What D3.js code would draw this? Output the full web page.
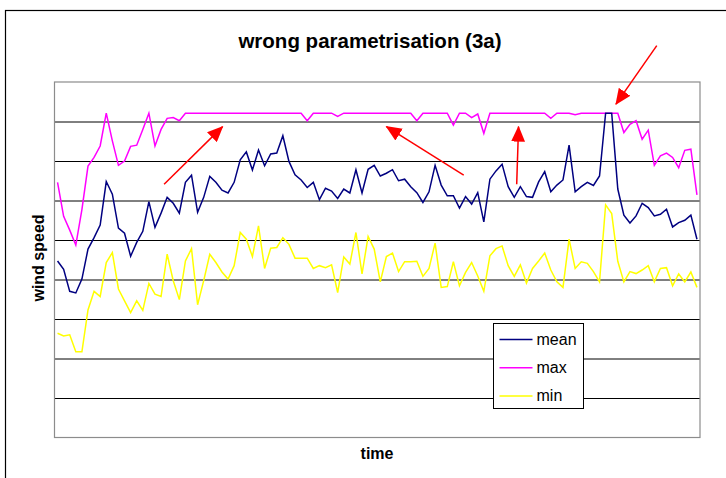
<!DOCTYPE html>
<html>
<head>
<meta charset="utf-8">
<script src="https://cdn.jsdelivr.net/npm/d3@7"></script>
<style>
  body { margin: 0; background: #fff; }
  text { font-family: "Liberation Sans", Arial, sans-serif; }
</style>
</head>
<body>
<div id="d3"></div>
<script>
"use strict";

// wind speed series (one value per time step)
var meanData = [
  4.47, 4.26, 3.70, 3.66, 4.01, 4.77, 5.06, 5.38, 6.48, 6.16,
  5.30, 5.17, 4.59, 4.94, 5.22, 5.97, 5.32, 5.68, 6.08, 5.93,
  5.68, 6.46, 6.64, 5.70, 6.08, 6.61, 6.46, 6.26, 6.19, 6.46,
  7.03, 7.23, 6.77, 7.28, 6.88, 7.18, 7.20, 7.64, 6.99, 6.65,
  6.52, 6.33, 6.46, 6.02, 6.31, 6.24, 6.05, 6.29, 6.19, 6.78,
  6.19, 6.79, 6.89, 6.62, 6.69, 6.78, 6.50, 6.54, 6.35, 6.20,
  5.95, 6.22, 6.89, 6.39, 6.12, 6.12, 5.81, 6.10, 5.91, 6.20,
  5.46, 6.54, 6.75, 6.92, 6.35, 6.08, 6.35, 6.10, 6.08, 6.47,
  6.73, 6.22, 6.39, 6.52, 7.40, 6.22, 6.35, 6.46, 6.38, 6.62,
  8.21, 8.21, 6.29, 5.63, 5.43, 5.61, 5.93, 5.82, 5.61, 5.65,
  5.78, 5.33, 5.44, 5.50, 5.63, 5.02
];
var maxData = [
  6.46, 5.60, 5.25, 4.87, 5.77, 6.87, 7.09, 7.38, 8.21, 7.51,
  6.89, 7.00, 7.37, 7.40, 7.80, 8.21, 7.38, 7.80, 8.08, 8.10,
  8.02, 8.21, 8.21, 8.21, 8.21, 8.21, 8.21, 8.21, 8.21, 8.21,
  8.21, 8.21, 8.21, 8.21, 8.21, 8.21, 8.21, 8.21, 8.21, 8.21,
  8.21, 8.02, 8.21, 8.21, 8.21, 8.21, 8.13, 8.21, 8.21, 8.21,
  8.21, 8.21, 8.21, 8.21, 8.21, 8.21, 8.21, 8.21, 8.21, 8.02,
  8.21, 8.21, 8.21, 8.21, 8.21, 7.91, 8.21, 8.21, 8.10, 8.19,
  7.70, 8.21, 8.21, 8.21, 8.21, 8.21, 8.21, 8.21, 8.21, 8.21,
  8.21, 8.08, 8.21, 8.21, 8.21, 8.17, 8.21, 8.21, 8.21, 8.21,
  8.21, 8.21, 8.21, 7.72, 7.93, 8.02, 7.55, 7.78, 6.89, 7.13,
  7.20, 7.09, 6.83, 7.27, 7.30, 6.14
];
var minData = [
  2.64, 2.57, 2.60, 2.17, 2.17, 3.23, 3.70, 3.57, 4.43, 4.68,
  3.76, 3.46, 3.16, 3.46, 3.22, 3.90, 3.63, 3.57, 4.64, 3.97,
  3.49, 4.47, 4.78, 3.36, 3.97, 4.64, 4.43, 4.19, 4.01, 4.35,
  5.19, 5.02, 4.58, 5.36, 4.28, 4.79, 4.81, 5.06, 4.89, 4.54,
  4.54, 4.54, 4.28, 4.35, 4.30, 4.37, 3.67, 4.57, 4.39, 5.19,
  4.14, 5.09, 4.77, 3.94, 4.58, 4.67, 4.20, 4.45, 4.45, 4.46,
  4.08, 4.28, 4.92, 3.80, 3.82, 4.45, 3.84, 4.18, 4.43, 4.09,
  3.70, 4.60, 4.78, 4.85, 4.35, 4.08, 4.37, 3.91, 4.28, 4.47,
  4.67, 4.24, 3.94, 3.80, 5.02, 4.28, 4.45, 4.41, 4.20, 3.94,
  5.89, 5.67, 4.46, 3.94, 4.20, 4.15, 4.24, 4.35, 3.94, 4.28,
  4.30, 3.84, 4.14, 3.94, 4.19, 3.80
];

var seriesNames = ["mean", "max", "min"];
var seriesColors = ["#000080", "#ff00ff", "#ffff00"];
var gridValues = [1, 2, 3, 4, 5, 6, 7, 8];

// red arrows drawn on the chart, in (time step, wind speed) units
var arrows = [
  { x1: 17.5, y1: 6.41, x2: 27.1, y2: 7.87 },
  { x1: 66.7, y1: 6.64, x2: 54.0, y2: 7.87 },
  { x1: 75.4, y1: 6.41, x2: 75.7, y2: 7.87 },
  { x1: 98.4, y1: 9.92, x2: 91.7, y2: 8.44 }
];

var W = 726, H = 478;
var margin = { top: 82, right: 26, bottom: 40.5, left: 54.5 },
    w = W - margin.left - margin.right,
    h = H - margin.top - margin.bottom;

// category axis: one point in the middle of each time step
var x = d3.scaleLinear()
          .domain([-0.5, meanData.length - 0.5])
          .range([0, w]);
var y = d3.scaleLinear()
          .domain([0, 9])
          .range([h, 0]);

var svg = d3.select("#d3")
            .append("svg")
            .attr("width", W)
            .attr("height", H);

svg.append("rect")
   .attr("width", W).attr("height", H)
   .attr("fill", "#fff");

// outer chart border (runs past the right/bottom edge of the picture)
svg.append("rect")
   .attr("x", 5.5).attr("y", 10.5)
   .attr("width", 760).attr("height", 500)
   .attr("fill", "none")
   .attr("stroke", "#000")
   .attr("stroke-width", 1.2);

svg.append("text")
   .attr("x", 370)
   .attr("y", 48)
   .attr("text-anchor", "middle")
   .attr("font-size", "20.5px")
   .attr("font-weight", "bold")
   .text("wrong parametrisation (3a)");

var g = svg.append("g")
           .attr("transform", "translate(" + margin.left + "," + margin.top + ")");

// horizontal gridlines, no labels
var yAxis = d3.axisLeft(y)
              .tickValues(gridValues)
              .tickSize(-w)
              .tickFormat("");
g.append("g")
 .attr("class", "grid")
 .call(yAxis)
 .call(s => s.select(".domain").remove())
 .selectAll("line")
   .attr("stroke", "#000")
   .attr("stroke-width", 1);

// plot area frame
g.append("rect")
 .attr("width", w).attr("height", h)
 .attr("fill", "none")
 .attr("stroke", "#8c8c8c")
 .attr("stroke-width", 1.2);

var line = d3.line()
             .x((d, i) => x(i))
             .y(d => y(d));

var allSeries = [meanData, maxData, minData];
// draw min first, then max, then mean on top
[2, 1, 0].forEach(function(k) {
  g.append("path")
   .datum(allSeries[k])
   .attr("fill", "none")
   .attr("stroke", seriesColors[k])
   .attr("stroke-width", 1.5)
   .attr("stroke-linejoin", "miter")
   .attr("d", line);
});

// arrowhead
svg.append("defs")
   .append("marker")
     .attr("id", "head")
     .attr("markerUnits", "userSpaceOnUse")
     .attr("viewBox", "0 0 16 14")
     .attr("markerWidth", 16)
     .attr("markerHeight", 14)
     .attr("refX", 15)
     .attr("refY", 7)
     .attr("orient", "auto")
   .append("path")
     .attr("d", "M0,0 L16,7 L0,14 Z")
     .attr("fill", "#ff0000");

g.selectAll(".arrow")
 .data(arrows)
 .join("line")
   .attr("class", "arrow")
   .attr("x1", d => x(d.x1))
   .attr("y1", d => y(d.y1))
   .attr("x2", d => x(d.x2))
   .attr("y2", d => y(d.y2))
   .attr("stroke", "#ff0000")
   .attr("stroke-width", 1.5)
   .attr("marker-end", "url(#head)");

// axis titles
svg.append("text")
   .attr("transform", "translate(44,258) rotate(-90)")
   .attr("text-anchor", "middle")
   .attr("font-size", "16px")
   .attr("font-weight", "bold")
   .text("wind speed");

svg.append("text")
   .attr("x", 377)
   .attr("y", 459)
   .attr("text-anchor", "middle")
   .attr("font-size", "16px")
   .attr("font-weight", "bold")
   .text("time");

// legend
var legend = svg.append("g")
                .attr("id", "legend-group")
                .attr("transform", "translate(493.5,323.5)");

legend.append("rect")
      .attr("width", 90).attr("height", 85)
      .attr("fill", "#fff")
      .attr("stroke", "#000")
      .attr("stroke-width", 1);

legend.selectAll("line")
      .data(seriesNames)
      .join("line")
        .attr("x1", 6).attr("x2", 39)
        .attr("y1", (d, i) => 16 + i * 28.2)
        .attr("y2", (d, i) => 16 + i * 28.2)
        .attr("stroke", (d, i) => seriesColors[i])
        .attr("stroke-width", 1.5);

legend.selectAll("text")
      .data(seriesNames)
      .join("text")
        .attr("x", 43)
        .attr("y", (d, i) => 21.5 + i * 28.2)
        .attr("font-size", "16px")
        .text(d => d);
</script>
</body>
</html>
